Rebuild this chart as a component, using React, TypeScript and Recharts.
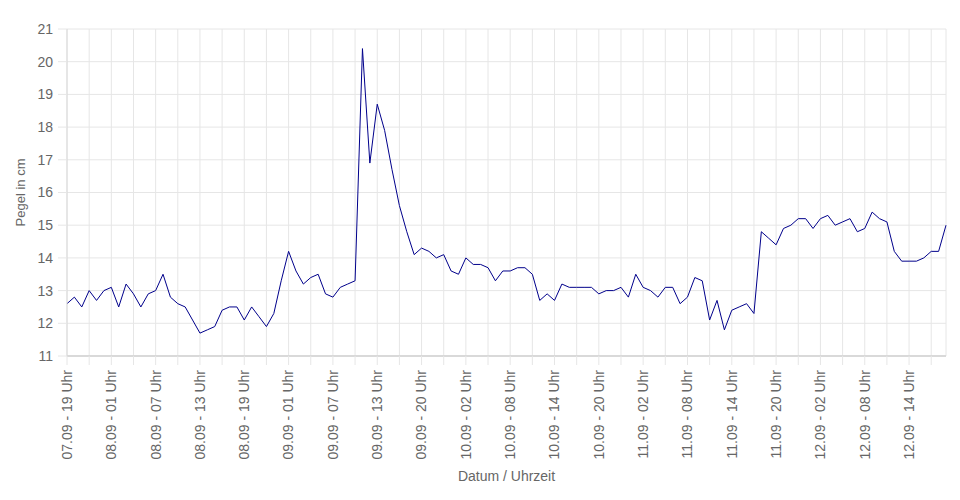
import { LineChart, Line, XAxis, YAxis, CartesianGrid } from 'recharts'

// Pegelstand, stündlich, 07.09 19 Uhr bis 12.09 ~19 Uhr
const LEVELS = [
  12.6, 12.8, 12.5, 13.0, 12.7, 13.0, 13.1, 12.5, 13.2, 12.9,
  12.5, 12.9, 13.0, 13.5, 12.8, 12.6, 12.5, 12.1, 11.7, 11.8,
  11.9, 12.4, 12.5, 12.5, 12.1, 12.5, 12.2, 11.9, 12.3, 13.3,
  14.2, 13.6, 13.2, 13.4, 13.5, 12.9, 12.8, 13.1, 13.2, 13.3,
  20.4, 16.9, 18.7, 17.9, 16.7, 15.6, 14.8, 14.1, 14.3, 14.2,
  14.0, 14.1, 13.6, 13.5, 14.0, 13.8, 13.8, 13.7, 13.3, 13.6,
  13.6, 13.7, 13.7, 13.5, 12.7, 12.9, 12.7, 13.2, 13.1, 13.1,
  13.1, 13.1, 12.9, 13.0, 13.0, 13.1, 12.8, 13.5, 13.1, 13.0,
  12.8, 13.1, 13.1, 12.6, 12.8, 13.4, 13.3, 12.1, 12.7, 11.8,
  12.4, 12.5, 12.6, 12.3, 14.8, 14.6, 14.4, 14.9, 15.0, 15.2,
  15.2, 14.9, 15.2, 15.3, 15.0, 15.1, 15.2, 14.8, 14.9, 15.4,
  15.2, 15.1, 14.2, 13.9, 13.9, 13.9, 14.0, 14.2, 14.2, 15.0,
]

// one label every 6 readings
const TICK_LABELS = [
  '07.09 - 19 Uhr', '08.09 - 01 Uhr', '08.09 - 07 Uhr', '08.09 - 13 Uhr',
  '08.09 - 19 Uhr', '09.09 - 01 Uhr', '09.09 - 07 Uhr', '09.09 - 13 Uhr',
  '09.09 - 20 Uhr', '10.09 - 02 Uhr', '10.09 - 08 Uhr', '10.09 - 14 Uhr',
  '10.09 - 20 Uhr', '11.09 - 02 Uhr', '11.09 - 08 Uhr', '11.09 - 14 Uhr',
  '11.09 - 20 Uhr', '12.09 - 02 Uhr', '12.09 - 08 Uhr', '12.09 - 14 Uhr',
]

const Y_TICKS = [11, 12, 13, 14, 15, 16, 17, 18, 19, 20, 21]

const FONT = '"Liberation Sans", Arial, Helvetica, sans-serif'
const TEXT = '#666'
const GRID = '#e6e6e6'

const data = LEVELS.map((v, i) => ({ i, v }))
// grid line every 3 readings, label every 6
const gridTicks = LEVELS.map((_, i) => i).filter(i => i % 3 === 0)

function XTick(props: any) {
  const { x, y, payload } = props
  const idx = payload.value as number
  if (idx % 6 !== 0) return null
  return (
    <text
      x={x}
      y={y}
      transform={`rotate(-90, ${x}, ${y})`}
      textAnchor="end"
      dy="0.35em"
      fill={TEXT}
      fontSize={14}
      fontFamily={FONT}
    >
      {TICK_LABELS[idx / 6]}
    </text>
  )
}

export default function App() {
  return (
    <div style={{ position: 'absolute', left: 0, top: 0, fontFamily: FONT }}>
      <LineChart
        width={960}
        height={500}
        data={data}
        margin={{ top: 29, right: 14, bottom: 0, left: 0 }}
      >
        <CartesianGrid stroke={GRID} strokeWidth={1} />
        <XAxis
          dataKey="i"
          type="number"
          domain={[0, LEVELS.length - 1]}
          ticks={gridTicks}
          interval={0}
          height={144}
          tickSize={9}
          tickMargin={5}
          tick={(p: any) => <XTick {...p} />}
          tickLine={{ stroke: GRID }}
          axisLine={{ stroke: '#d9d9d9', strokeWidth: 2 }}
          label={{
            content: (p: any) => {
              const vb = p.viewBox
              return (
                <text
                  x={vb.x + vb.width / 2}
                  y={vb.y + 125}
                  textAnchor="middle"
                  fill={TEXT}
                  fontSize={14}
                  fontFamily={FONT}
                >
                  Datum / Uhrzeit
                </text>
              )
            },
          }}
        />
        <YAxis
          type="number"
          domain={[11, 21]}
          ticks={Y_TICKS}
          interval={0}
          width={67}
          tickSize={9}
          tickMargin={5}
          tick={{ fill: TEXT, fontSize: 14, fontFamily: FONT }}
          tickLine={{ stroke: GRID }}
          axisLine={{ stroke: '#d9d9d9' }}
          label={{
            content: (p: any) => {
              const vb = p.viewBox
              const cx = vb.x + 20
              const cy = vb.y + vb.height / 2
              return (
                <text
                  x={cx}
                  y={cy}
                  transform={`rotate(-90, ${cx}, ${cy})`}
                  textAnchor="middle"
                  dy="0.35em"
                  fill={TEXT}
                  fontSize={13}
                  fontFamily={FONT}
                >
                  Pegel in cm
                </text>
              )
            },
          }}
        />
        <Line
          type="linear"
          dataKey="v"
          stroke="#00008b"
          strokeWidth={1}
          dot={false}
          activeDot={false}
          isAnimationActive={false}
        />
      </LineChart>
    </div>
  )
}
